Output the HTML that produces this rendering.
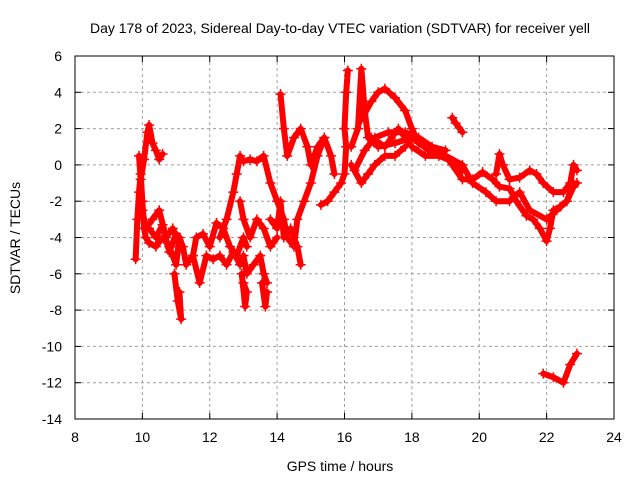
<!DOCTYPE html>
<html><head><meta charset="utf-8">
<style>
body{margin:0;background:#fff;}
svg{display:block;font-family:"Liberation Sans",sans-serif;}
</style></head>
<body>
<svg id="chart" width="640" height="480" viewBox="0 0 640 480" xmlns="http://www.w3.org/2000/svg">
<rect width="640" height="480" fill="#fff"/>
<text x="340" y="33" font-size="14" text-anchor="middle">Day 178 of 2023, Sidereal Day-to-day VTEC variation (SDTVAR) for receiver yell</text>
<text x="340" y="471" font-size="14" text-anchor="middle">GPS time / hours</text>
<text transform="translate(20,238) rotate(-90)" font-size="14" text-anchor="middle">SDTVAR / TECUs</text>
<g id="grid"></g>
<g id="ticks"></g>
<g id="marks"></g>
<rect x="75" y="56" width="539" height="363" fill="none" stroke="#000" stroke-width="1"/>
</svg>
<script>
const xTicks=[8,10,12,14,16,18,20,22,24];
const yTicks=[6,4,2,0,-2,-4,-6,-8,-10,-12,-14];
const trackA_t=[9.8,9.85,9.9,9.95,10.0,10.05,10.1,10.2,10.4,10.6,10.8,11.0,11.1,11.2,11.3,11.5,11.7,11.9,12.1,12.3,12.5,12.7,12.9,13.0,13.1,13.3,13.5,13.6,13.7];
const trackA_v=[-5.2,-3,-1.5,-0.5,-2,-3.5,-4,-4.3,-4.5,-4,-4.5,-5.5,-4,-4.5,-5.5,-5,-6.5,-5,-5.2,-5,-5.5,-4.8,-5.5,-5,-6,-5.5,-5,-6,-6.5];
const trackB_t=[9.9,9.95,10.05,10.15,10.2,10.3,10.4,10.5,10.6];
const trackB_v=[0.5,-0.8,0.3,1.8,2.2,1.2,0.8,0.3,0.6];
const trackC_t=[10.0,10.1,10.3,10.5,10.7,10.9,11.1];
const trackC_v=[-2.5,-3.5,-3,-2.5,-4,-3.5,-4.5];
const trackD_t=[12.3,12.5,12.7,12.8,12.9,13.0,13.2,13.4,13.6,13.8,14.0,14.2,14.3,14.5,14.6,14.8,15.0,15.2,15.4];
const trackD_v=[-4,-3,-1.5,-0.5,0.5,0.2,0.3,0.2,0.5,-1,-2,-3,-4,-4.5,-3,-2,-1,0.5,1.5];
const trackE_t=[12.9,13.0,13.2,13.4,13.6,13.8,14.0];
const trackE_v=[-2,-3,-4,-3,-3.5,-4.5,-4];
const trackF_t=[14.1,14.2,14.3,14.5,14.7,14.9,15.0,15.2,15.4,15.6,15.7];
const trackF_v=[3.9,2,0.5,1.5,2,1,0,1,1.5,0.5,-0.5];
const trackG_t=[15.3,15.5,15.7,15.9,16.0,16.05,16.0,16.05,16.1];
const trackG_v=[-2.2,-2,-1.5,-1,-0.5,1,2,4,5.2];
const trackH_t=[16.2,16.4,16.5,16.6,16.7,17.0,17.5,18.0,18.5,19.0,19.5,19.8,20.2,20.5,20.9,21.2,21.5,22.0,22.3,22.6,22.8];
const trackH_v=[1,2,5.3,3,1.5,1,1.2,1.5,0.8,0.5,0,-1,-1.5,-2,-2,-1.5,-2.5,-3,-2.5,-2,-1];
const trackI_t=[16.5,16.8,17.0,17.2,17.5,17.8,18.0,18.2,18.5,19.0,19.2,19.5,19.8,20.1,20.4,20.6,20.9,21.1,21.4,21.6,21.8,22.0,22.1,22.2,22.4,22.6,22.8,22.9];
const trackI_v=[2.5,3.5,4,4.2,3.7,3,2,1.2,1,0.5,0,-0.8,-0.8,-0.4,-0.8,-1.2,-1.3,-2,-2.8,-3,-3.5,-4.2,-3.5,-2.5,-2.3,-2,-1.2,-1];
const trackJ_t=[20.5,20.6,20.7,20.9,21.2,21.5,21.7,21.9,22.2,22.5,22.7,22.8,22.9];
const trackJ_v=[-0.5,0.6,0,-0.8,-0.7,-0.3,-0.5,-1,-1.5,-1.5,-1,0,-0.3];
const trackK_t=[19.2,19.3,19.5];
const trackK_v=[2.6,2.3,1.8];
const trackL_t=[21.9,22.2,22.5,22.7,22.9];
const trackL_v=[-11.5,-11.7,-12,-11,-10.4];
const trackM_t=[16.2,16.5,16.7,16.9,17.2,17.5,17.8];
const trackM_v=[0,-1,-0.5,0,0.5,0.5,1];
const trackN_t=[10.95,11.05,11.15,11.1];
const trackN_v=[-6,-7.5,-8.5,-7];
const trackO_t=[12.95,13.05,13.1,13.0];
const trackO_v=[-6,-7.8,-7,-6.5];
const trackP_t=[13.55,13.65,13.7];
const trackP_v=[-6.5,-7.8,-7];
const trackQ_t=[11.5,11.6,11.8,12.0,12.2,12.4,12.6,12.8,13.0,13.1];
const trackQ_v=[-5,-4,-3.8,-4.5,-3.2,-3.5,-4.5,-5,-4,-4.5];
const trackR_t=[16.8,17.2,17.6,18.0,18.4,18.8,19.2,19.5];
const trackR_v=[1.5,1,2,1,0.5,0.5,0.2,-0.3];
const trackS_t=[16.3,16.6,16.9,17.3,17.8,18.2,18.6,19.0];
const trackS_v=[-0.3,0.8,1.5,1.8,1.8,1.5,1,0.8];
const trackT_t=[13.8,14.0,14.1,14.2,14.4,14.6,14.7];
const trackT_v=[-3,-3.5,-2,-4,-3.5,-4.5,-5.5];
const trackU_t=[10.2,10.4,10.6,10.8,11.0];
const trackU_v=[-3.5,-4,-3.3,-4.8,-3.8];
const tracks=[[trackA_t,trackA_v],[trackB_t,trackB_v],[trackC_t,trackC_v],[trackD_t,trackD_v],[trackE_t,trackE_v],[trackF_t,trackF_v],[trackG_t,trackG_v],[trackH_t,trackH_v],[trackI_t,trackI_v],[trackJ_t,trackJ_v],[trackK_t,trackK_v],[trackL_t,trackL_v],[trackM_t,trackM_v],[trackN_t,trackN_v],[trackO_t,trackO_v],[trackP_t,trackP_v],[trackQ_t,trackQ_v],[trackR_t,trackR_v],[trackS_t,trackS_v],[trackT_t,trackT_v],[trackU_t,trackU_v]];
const NS="http://www.w3.org/2000/svg";
function xs(h){return 75+(h-8)*539/16;}
function ys(v){return 56+(6-v)*363/20;}
const grid=document.getElementById('grid'),ticks=document.getElementById('ticks'),marks=document.getElementById('marks');
function mk(tag,attrs,parent){const e=document.createElementNS(NS,tag);for(const k in attrs)e.setAttribute(k,attrs[k]);parent.appendChild(e);return e;}
xTicks.forEach(t=>{const x=xs(t);
 if(t>8&&t<24){const g=mk('line',{x1:x,x2:x,y1:56,y2:419,stroke:'#a0a0a0','stroke-dasharray':'3,3'},grid);
 
 }
 mk('line',{x1:x,x2:x,y1:419,y2:413,stroke:'#000'},ticks);mk('line',{x1:x,x2:x,y1:56,y2:62,stroke:'#000'},ticks);
 const l=mk('text',{x:x,y:442,'font-size':14,'text-anchor':'middle'},ticks);l.textContent=t;
 
 });
yTicks.forEach(t=>{const y=ys(t);
 if(t<6&&t>-14){const g=mk('line',{x1:75,x2:614,y1:y,y2:y,stroke:'#a0a0a0','stroke-dasharray':'3,3'},grid);
 
 }
 mk('line',{x1:75,x2:81,y1:y,y2:y,stroke:'#000'},ticks);mk('line',{x1:614,x2:608,y1:y,y2:y,stroke:'#000'},ticks);
 const l=mk('text',{x:62,y:y+5,'font-size':14,'text-anchor':'end'},ticks);l.textContent=t;
 
 });
tracks.forEach(tr=>{const [T,V]=tr;
 const pts=T.map((t,i)=>xs(t)+','+ys(V[i])).join(' ');
 const pl=mk('polyline',{points:pts,fill:'none',stroke:'#ff0000','stroke-width':6,'stroke-linejoin':'round','stroke-linecap':'round'},marks);
 
 
 T.forEach((t,i)=>{const x=xs(t),y=ys(V[i]);
  const p=mk('path',{d:`M${x-5},${y}h10M${x},${y-5}v10`,stroke:'#ff0000','stroke-width':1.5},marks);
  
  });
});
</script>
</body></html>
